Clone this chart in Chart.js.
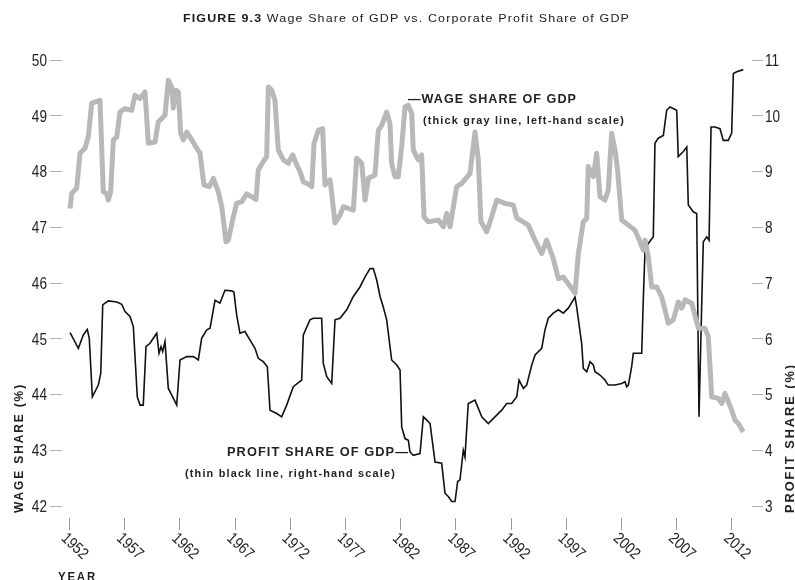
<!DOCTYPE html>
<html>
<head>
<meta charset="utf-8">
<script src="https://cdn.jsdelivr.net/npm/chart.js@4.4.1/dist/chart.umd.min.js"></script>
<style>
  html, body { margin: 0; padding: 0; background: #fff; }
  #chart { display: block; }
</style>
</head>
<body>
<canvas id="chart" width="795" height="580"></canvas>
<script>
// Tick labels
const yearTicks = [1952, 1957, 1962, 1967, 1972, 1977, 1982, 1987, 1992, 1997, 2002, 2007, 2012];
const wageTicks = [42, 43, 44, 45, 46, 47, 48, 49, 50];
const profitTicks = [3, 4, 5, 6, 7, 8, 9, 10, 11];

// Wage share of GDP (%), left-hand scale
const wageYears = [
  1952.05, 1952.20, 1952.65, 1952.95, 1953.40, 1953.70, 1954.01, 1954.76, 1955.06, 1955.37,
  1955.51, 1955.73, 1955.97, 1956.28, 1956.57, 1957.03, 1957.63, 1957.93, 1958.39, 1958.84,
  1959.14, 1959.74, 1960.04, 1960.65, 1960.95, 1961.26, 1961.40, 1961.65, 1961.86, 1962.07,
  1962.31, 1962.62, 1963.07, 1963.52, 1963.82, 1964.18, 1964.66, 1965.03, 1965.48, 1965.79,
  1966.18, 1966.38, 1966.84, 1967.14, 1967.60, 1968.05, 1968.50, 1968.89, 1969.10, 1969.55,
  1969.86, 1970.01, 1970.32, 1970.61, 1970.91, 1971.37, 1971.82, 1972.22, 1972.58, 1972.88,
  1973.18, 1973.78, 1973.94, 1974.15, 1974.54, 1974.93, 1975.14, 1975.60, 1975.75, 1976.05,
  1976.50, 1976.80, 1977.25, 1977.71, 1978.01, 1978.47, 1978.77, 1979.07, 1979.67, 1979.97,
  1980.28, 1980.73, 1981.03, 1981.18, 1981.48, 1981.78, 1982.09, 1982.39, 1982.69, 1983.00,
  1983.14, 1983.59, 1983.90, 1984.11, 1984.50, 1985.41, 1985.86, 1986.17, 1986.47, 1987.07,
  1987.53, 1988.28, 1988.73, 1989.03, 1989.27, 1989.79, 1990.24, 1990.70, 1991.45, 1992.20,
  1992.51, 1993.56, 1994.17, 1994.77, 1995.22, 1995.82, 1996.28, 1996.73, 1997.18, 1997.79,
  1998.09, 1998.54, 1998.85, 1998.99, 1999.45, 1999.75, 2000.05, 2000.50, 2000.80, 2001.11,
  2001.41, 2001.66, 2002.02, 2002.62, 2003.22, 2003.68, 2003.97, 2004.13, 2004.43, 2004.74,
  2005.19, 2005.64, 2006.24, 2006.69, 2007.14, 2007.45, 2007.75, 2008.36, 2008.96, 2009.56,
  2009.86, 2010.17, 2010.77, 2011.07, 2011.37, 2011.98, 2012.28, 2012.58, 2013.03
];
const wageShare = [
  47.34, 47.61, 47.70, 48.33, 48.42, 48.62, 49.23, 49.28, 47.64, 47.60,
  47.49, 47.64, 48.57, 48.62, 49.07, 49.13, 49.10, 49.37, 49.31, 49.43,
  48.51, 48.53, 48.89, 49.01, 49.64, 49.52, 49.14, 49.46, 49.43, 48.69,
  48.57, 48.71, 48.57, 48.42, 48.33, 47.76, 47.73, 47.88, 47.64, 47.37,
  46.74, 46.77, 47.19, 47.43, 47.46, 47.60, 47.55, 47.50, 48.03, 48.18,
  48.27, 49.52, 49.46, 49.28, 48.39, 48.21, 48.15, 48.30, 48.12, 48.00,
  47.82, 47.76, 47.73, 48.51, 48.74, 48.77, 47.76, 47.85, 47.61, 47.08,
  47.22, 47.37, 47.34, 47.31, 48.24, 48.15, 47.49, 47.88, 47.94, 48.74,
  48.83, 49.07, 48.86, 48.15, 47.91, 47.91, 48.45, 49.16, 49.19, 49.04,
  48.39, 48.21, 48.30, 47.19, 47.10, 47.13, 47.01, 47.25, 47.01, 47.73,
  47.79, 47.97, 48.71, 48.21, 47.10, 46.92, 47.19, 47.49, 47.43, 47.40,
  47.17, 47.04, 46.77, 46.53, 46.77, 46.44, 46.08, 46.11, 45.99, 45.82,
  46.53, 47.10, 47.16, 48.09, 47.91, 48.33, 47.55, 47.49, 47.67, 48.69,
  48.39, 48.00, 47.13, 47.04, 46.95, 46.74, 46.59, 46.77, 46.47, 45.93,
  45.93, 45.75, 45.28, 45.34, 45.66, 45.55, 45.70, 45.64, 45.19, 45.19,
  45.04, 43.96, 43.93, 43.84, 44.02, 43.72, 43.54, 43.48, 43.33
];

// Corporate profit share of GDP (%), right-hand scale
const profitYears = [
  1952.05, 1952.80, 1953.25, 1953.61, 1953.79, 1954.07, 1954.61, 1954.83, 1955.01, 1955.51,
  1956.28, 1956.73, 1957.03, 1957.48, 1957.78, 1958.14, 1958.39, 1958.68, 1958.93, 1959.29,
  1959.59, 1959.90, 1960.11, 1960.29, 1960.44, 1960.65, 1960.95, 1961.26, 1961.71, 1962.01,
  1962.62, 1963.21, 1963.67, 1963.97, 1964.43, 1964.73, 1965.18, 1965.63, 1966.08, 1966.69,
  1966.89, 1967.14, 1967.44, 1967.89, 1968.34, 1968.80, 1969.10, 1969.55, 1969.92, 1970.16,
  1970.77, 1971.22, 1971.67, 1972.27, 1973.03, 1973.18, 1973.78, 1974.08, 1974.84, 1974.99,
  1975.30, 1975.75, 1976.05, 1976.50, 1977.11, 1977.71, 1978.31, 1978.77, 1979.22, 1979.52,
  1979.83, 1980.13, 1980.42, 1980.73, 1981.18, 1981.64, 1981.94, 1982.09, 1982.39, 1982.69,
  1982.84, 1983.14, 1983.75, 1984.05, 1984.36, 1984.66, 1985.11, 1985.71, 1986.01, 1986.31,
  1986.62, 1986.92, 1987.16, 1987.37, 1987.67, 1987.82, 1988.12, 1988.73, 1989.34, 1989.93,
  1990.54, 1991.15, 1991.60, 1992.05, 1992.51, 1992.72, 1993.11, 1993.41, 1993.87, 1994.17,
  1994.77, 1995.07, 1995.37, 1995.82, 1996.28, 1996.73, 1997.18, 1997.79, 1997.94, 1998.39,
  1998.54, 1998.85, 1999.15, 1999.45, 1999.60, 2000.05, 2000.50, 2000.80, 2001.41, 2002.02,
  2002.32, 2002.47, 2002.62, 2002.92, 2003.07, 2003.83, 2003.97, 2004.13, 2004.43, 2004.88,
  2005.03, 2005.33, 2005.79, 2006.09, 2006.39, 2007.00, 2007.14, 2007.60, 2007.91, 2008.05,
  2008.50, 2008.81, 2009.02, 2009.26, 2009.41, 2009.72, 2009.93, 2010.11, 2010.47, 2010.92,
  2011.22, 2011.67, 2011.98, 2012.13, 2012.44, 2013.03
];
const profitShare = [
  6.11, 5.83, 6.07, 6.17, 6.01, 4.96, 5.17, 5.38, 6.61, 6.68,
  6.66, 6.62, 6.49, 6.40, 6.22, 4.96, 4.81, 4.81, 5.86, 5.92,
  6.01, 6.10, 5.74, 5.86, 5.77, 5.95, 5.11, 4.99, 4.81, 5.62,
  5.68, 5.68, 5.62, 6.01, 6.16, 6.19, 6.69, 6.64, 6.87, 6.86,
  6.84, 6.43, 6.10, 6.13, 5.98, 5.83, 5.65, 5.59, 5.50, 4.72,
  4.66, 4.60, 4.81, 5.14, 5.26, 6.07, 6.34, 6.37, 6.37, 5.56,
  5.32, 5.20, 6.34, 6.37, 6.52, 6.76, 6.93, 7.11, 7.26, 7.26,
  7.05, 6.76, 6.57, 6.34, 5.62, 5.53, 5.44, 4.42, 4.21, 4.18,
  3.97, 3.91, 3.94, 4.60, 4.54, 4.48, 3.79, 3.77, 3.23, 3.17,
  3.08, 3.08, 3.44, 3.47, 4.00, 3.88, 4.84, 4.90, 4.60, 4.48,
  4.60, 4.72, 4.84, 4.84, 4.96, 5.26, 5.11, 5.17, 5.53, 5.71,
  5.83, 6.16, 6.37, 6.46, 6.52, 6.46, 6.55, 6.75, 6.57, 5.92,
  5.47, 5.41, 5.59, 5.53, 5.41, 5.35, 5.26, 5.17, 5.17, 5.20,
  5.23, 5.14, 5.17, 5.50, 5.74, 5.74, 6.69, 7.59, 7.71, 7.83,
  9.51, 9.60, 9.65, 10.10, 10.16, 10.10, 9.27, 9.36, 9.44, 8.40,
  8.28, 8.25, 4.60, 6.58, 7.74, 7.83, 7.77, 9.80, 9.80, 9.77,
  9.56, 9.56, 9.69, 10.76, 10.79, 10.83
];

const SANS = '"Liberation Sans", Arial, sans-serif';

// draw text squeezed horizontally by sx (the reference uses a condensed face)
function drawScaled(ctx, text, x, y, font, align, spacing, sx) {
  ctx.font = font;
  ctx.letterSpacing = spacing || '0px';
  ctx.textAlign = align || 'left';
  ctx.save();
  ctx.translate(x, y);
  ctx.scale(sx, 1);
  ctx.fillText(text, 0, 0);
  ctx.restore();
}

// same, but squeezed to fill a given width
function drawFit(ctx, text, x, y, font, align, spacing, width) {
  ctx.font = font;
  ctx.letterSpacing = spacing || '0px';
  const w = ctx.measureText(text).width;
  drawScaled(ctx, text, x, y, font, align, spacing, width / w);
}

const textPlugin = {
  id: 'textPlugin',
  afterDraw(chart) {
    const ctx = chart.ctx;
    const { x: xScale, y: yScale, y1: y1Scale } = chart.scales;
    ctx.save();
    ctx.fillStyle = '#1a1a1a';
    ctx.textBaseline = 'middle';

    // title: bold prefix + regular text, centred together
    const boldPart = 'FIGURE 9.3';
    const restPart = ' Wage Share of GDP vs. Corporate Profit Share of GDP';
    const tBold = 'bold 11px ' + SANS;
    const tReg = '11px ' + SANS;
    ctx.letterSpacing = '1px';
    ctx.font = tBold;
    const w1 = ctx.measureText(boldPart).width;
    ctx.font = tReg;
    const w2 = ctx.measureText(restPart).width;
    const sx = 447 / (w1 + w2);
    drawScaled(ctx, boldPart, 183, 19, tBold, 'left', '1px', sx);
    drawScaled(ctx, restPart, 183 + w1 * sx, 19, tReg, 'left', '1px', sx);

    ctx.fillStyle = '#222';

    // y tick labels
    const numFont = '17px ' + SANS;
    wageTicks.forEach(v => {
      drawScaled(ctx, String(v), 47, yScale.getPixelForValue(v) + 1, numFont, 'right', '0px', 0.8);
    });
    profitTicks.forEach(v => {
      drawScaled(ctx, String(v), 765, y1Scale.getPixelForValue(v) + 1, numFont, 'left', '0px', 0.8);
    });

    // year labels, slanted down to the right
    yearTicks.forEach(yr => {
      const px = xScale.getPixelForValue(yr);
      ctx.save();
      ctx.translate(px - 6, 536);
      ctx.rotate(43 * Math.PI / 180);
      drawScaled(ctx, String(yr), 0, 0, '16px ' + SANS, 'left', '0px', 0.85);
      ctx.restore();
    });

    // axis names
    const axisFont = 'bold 13px ' + SANS;
    ctx.save();
    ctx.translate(19, 448);
    ctx.rotate(-Math.PI / 2);
    drawFit(ctx, 'WAGE SHARE (%)', 0, 0, axisFont, 'center', '2px', 130);
    ctx.restore();

    ctx.save();
    ctx.translate(790, 438);
    ctx.rotate(-Math.PI / 2);
    drawFit(ctx, 'PROFIT SHARE (%)', 0, 0, axisFont, 'center', '2px', 150);
    ctx.restore();

    drawFit(ctx, 'YEAR', 58, 577, axisFont, 'left', '2px', 39);

    // callouts
    const cFont1 = 'bold 12px ' + SANS;
    const cFont2 = 'bold 11px ' + SANS;
    drawFit(ctx, '\u2014WAGE SHARE OF GDP', 408, 100, cFont1, 'left', '1px', 169);
    drawFit(ctx, '(thick gray line, left-hand scale)', 423, 121, cFont2, 'left', '1.2px', 202);
    drawFit(ctx, 'PROFIT SHARE OF GDP\u2014', 409, 453, cFont1, 'right', '1px', 182);
    drawFit(ctx, '(thin black line, right-hand scale)', 396, 474, cFont2, 'right', '1.2px', 211);

    ctx.restore();
  }
};

const hidden = 'rgba(0,0,0,0)';

new Chart(document.getElementById('chart'), {
  type: 'line',
  data: {
    datasets: [
      {
        label: 'Wage share of GDP',
        data: wageYears.map((yr, i) => ({ x: yr, y: wageShare[i] })),
        yAxisID: 'y',
        borderColor: '#b8b8b8',
        borderWidth: 5,
        borderJoinStyle: 'round',
        pointRadius: 0,
        tension: 0
      },
      {
        label: 'Profit share of GDP',
        data: profitYears.map((yr, i) => ({ x: yr, y: profitShare[i] })),
        yAxisID: 'y1',
        borderColor: '#111',
        borderWidth: 1.6,
        pointRadius: 0,
        tension: 0
      }
    ]
  },
  options: {
    responsive: false,
    animation: false,
    layout: { padding: { top: 49, left: 0, right: 0, bottom: 0 } },
    plugins: {
      legend: { display: false },
      tooltip: { enabled: false }
    },
    scales: {
      x: {
        type: 'linear',
        min: 1951.32,
        max: 2013.82,
        afterBuildTicks: s => { s.ticks = yearTicks.map(v => ({ value: v })); },
        afterFit: s => { s.height = 62; },
        ticks: { color: hidden, maxRotation: 0, autoSkip: false },
        grid: { drawOnChartArea: false, drawTicks: true, tickLength: 12, color: '#9a9a9a' },
        border: { display: false }
      },
      y: {
        position: 'left',
        min: 41.785,
        max: 50.2,
        afterBuildTicks: s => { s.ticks = wageTicks.map(v => ({ value: v })); },
        afterFit: s => { s.width = 62; },
        ticks: { color: hidden },
        grid: { drawOnChartArea: false, drawTicks: true, tickLength: 12, color: '#b0b0b0' },
        border: { display: false }
      },
      y1: {
        position: 'right',
        min: 2.785,
        max: 11.2,
        afterBuildTicks: s => { s.ticks = profitTicks.map(v => ({ value: v })); },
        afterFit: s => { s.width = 43; },
        ticks: { color: hidden },
        grid: { drawOnChartArea: false, drawTicks: true, tickLength: 11, color: '#b0b0b0' },
        border: { display: false }
      }
    }
  },
  plugins: [textPlugin]
});
</script>
</body>
</html>
